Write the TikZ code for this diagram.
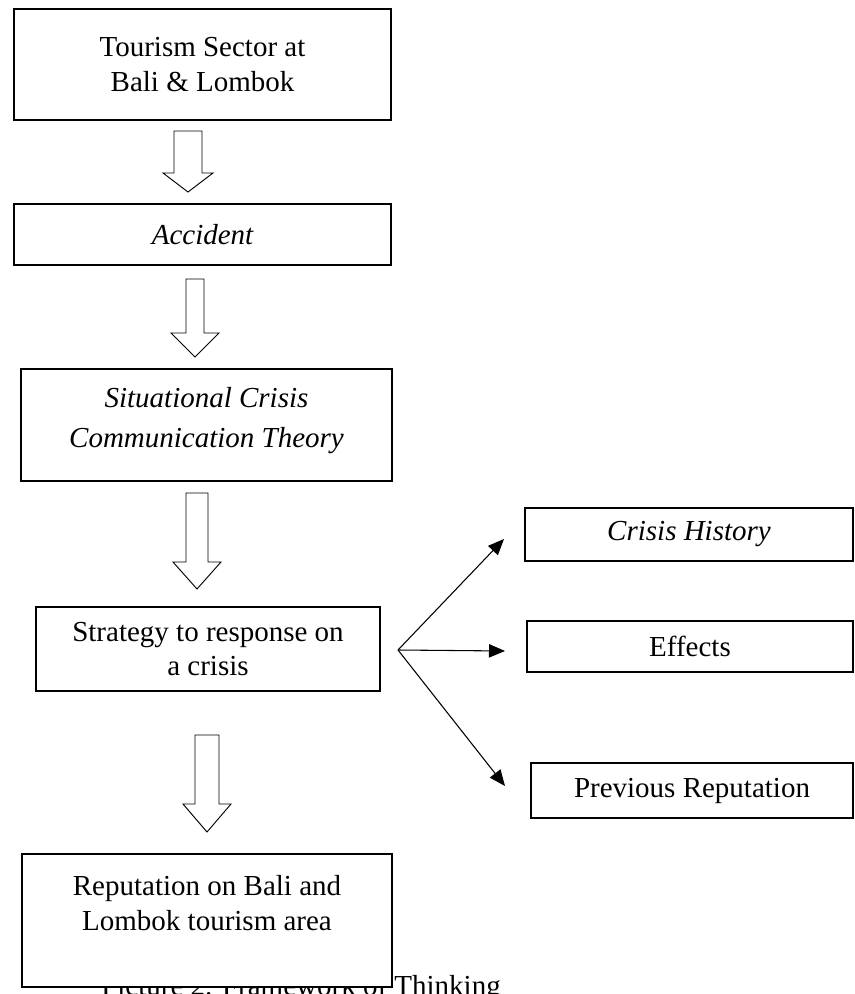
\documentclass[tikz,border=0pt]{standalone}
\usepackage{fontspec}
\setmainfont{Liberation Serif}
\usetikzlibrary{arrows.meta, calc}

\begin{document}
\begin{tikzpicture}[x=0.75pt,y=-0.75pt]
      \tikzset{box/.style={draw,
          line width=0.9pt,
          fill=white,
          align=center,
          inner sep=0pt,
          font=\fontsize{21.75}{26}\selectfont},
        hollow/.style={draw, line width=0.7pt, line join=miter},
        branch/.style={line width=0.8pt, -{Triangle[length=12pt,width=10pt]}}
      }
      \useasboundingbox (0,0) rectangle (854,994);
      \node [font=\fontsize{21.75}{26}\selectfont, anchor=base] (caption) at (301,995) {Picture 2. Framework of Thinking};

      \node [box, minimum width=282.75pt, minimum height=83.25pt] (sector) at (202.5,64.5) {Tourism Sector at\\Bali \& Lombok};
      \node [box, minimum width=282.75pt, minimum height=45.75pt] (accident) at (202.5,234.5) {\itshape Accident};
      \node [box, minimum width=278.25pt, minimum height=84pt] (scct) at (206.5,425) {\itshape Situational Crisis\\[4pt]\itshape Communication Theory\\[-14pt]\mbox{}};
      \node [box, minimum width=258pt, minimum height=63pt] (strategy) at (208,649) {Strategy to response on\\a crisis};
      \node [box, minimum width=277.5pt, minimum height=99.75pt] (reputation) at (207,920.5) {Reputation on Bali and\\Lombok tourism area\\\mbox{}};

      \node [box, minimum width=246pt, minimum height=39.75pt] (history) at (689,534.5) {\itshape Crisis History};
      \node [box, minimum width=244.5pt, minimum height=38.25pt] (effects) at (690,646.5) {Effects};
      \node [box, minimum width=241.5pt, minimum height=41.25pt] (previous) at (692,790.5) {Previous Reputation};

      \draw [hollow] (174,131)--(202,131)--(202,173)--(213,173)--(188,192)--(163,173)--(174,173)--cycle;
      \draw [hollow] (186,279)--(204,279)--(204,333)--(219,333)--(195,357)--(171,333)--(186,333)--cycle;
      \draw [hollow] (186,493)--(208,493)--(208,562)--(221,562)--(197,589)--(173,562)--(186,562)--cycle;
      \draw [hollow] (195,735)--(219,735)--(219,804)--(231,804)--(207,832)--(183,804)--(195,804)--cycle;

      \coordinate (fork) at (398,650);
      \coordinate (toHistory) at (504,539);
      \coordinate (toEffects) at (505,651);
      \coordinate (toPrevious) at (505,786);
      \draw [branch] (fork)--(toHistory);
      \draw [branch] (fork)--(toEffects);
      \draw [branch] (fork)--(toPrevious);

    \end{tikzpicture}
\end{document}
